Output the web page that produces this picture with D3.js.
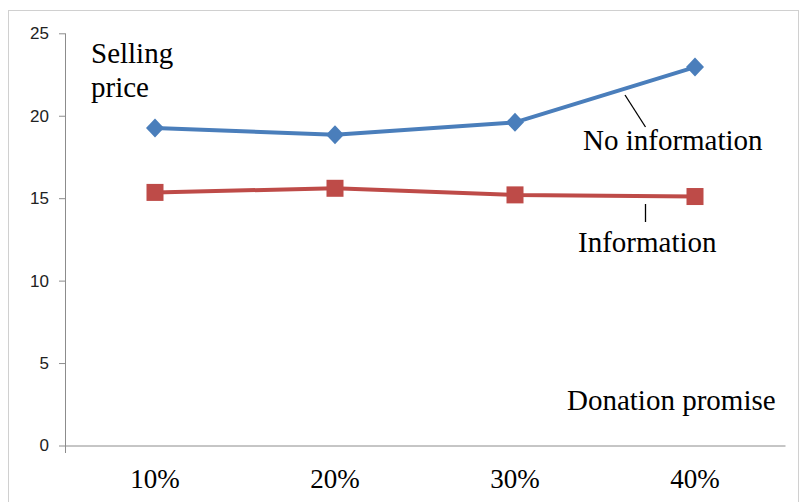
<!DOCTYPE html>
<html>
<head>
<meta charset="utf-8">
<script src="https://cdn.jsdelivr.net/npm/d3@7"></script>
<style>
  html, body { margin: 0; padding: 0; background: #fff; }
  svg { display: block; }
</style>
</head>
<body>
<svg id="chart" width="799" height="502"></svg>
<script>
// Selling price by donation promise, with and without information
const categories = ["10%", "20%", "30%", "40%"];
const noInformation = [19.25, 18.85, 19.6, 22.95];
const information = [15.35, 15.6, 15.2, 15.1];
const yTicks = [0, 5, 10, 15, 20, 25];

const svg = d3.select("#chart");
const plot = { left: 65, right: 785, top: 33.3, bottom: 445.5 };
const serif = '"Liberation Serif"';
const sans = '"Liberation Sans"';

// Dotted outer frame of the chart area
svg.append("rect")
  .attr("x", 8.5).attr("y", 10.5)
  .attr("width", 790).attr("height", 500)
  .attr("fill", "none")
  .attr("stroke", "#a0a0a0")
  .attr("stroke-width", 1)
  .attr("stroke-dasharray", "1,1");

const x = d3.scaleBand().domain(categories).range([plot.left, plot.right]);
const y = d3.scaleLinear().domain([0, 25]).range([plot.bottom, plot.top]);

// Y axis
const yAxis = svg.append("g")
  .attr("transform", `translate(${plot.left},0)`)
  .call(d3.axisLeft(y).tickValues(yTicks).tickSize(6).tickPadding(10).tickSizeOuter(0));
yAxis.select(".domain").remove();
yAxis.selectAll(".tick line").attr("stroke", "#8c8c8c");
yAxis.selectAll(".tick text")
  .style("font-family", sans)
  .style("font-size", "17px")
  .attr("fill", "#222");
svg.append("line")
  .attr("x1", plot.left + 0.5).attr("x2", plot.left + 0.5)
  .attr("y1", plot.top).attr("y2", plot.bottom + 7.5)
  .attr("stroke", "#8c8c8c");

// X axis
const xAxis = svg.append("g")
  .attr("transform", `translate(0,${plot.bottom})`)
  .call(d3.axisBottom(x).tickSize(0).tickPadding(23).tickSizeOuter(0));
xAxis.select(".domain").attr("stroke", "#8c8c8c");
xAxis.selectAll(".tick text")
  .style("font-family", serif)
  .style("font-size", "27px")
  .attr("fill", "#000");

// Series lines
const line = d3.line()
  .x((d, i) => x(categories[i]) + x.bandwidth() / 2)
  .y(d => y(d));

const blue = "#4a7ebb", red = "#be4b48";

svg.append("path").datum(noInformation)
  .attr("d", line).attr("fill", "none")
  .attr("stroke", blue).attr("stroke-width", 4).attr("stroke-linejoin", "round");
svg.append("path").datum(information)
  .attr("d", line).attr("fill", "none")
  .attr("stroke", red).attr("stroke-width", 4).attr("stroke-linejoin", "round");

// Diamond markers
svg.selectAll(".diamond").data(noInformation).enter().append("path")
  .attr("class", "diamond")
  .attr("transform", (d, i) => `translate(${x(categories[i]) + x.bandwidth() / 2},${y(d)})`)
  .attr("d", "M0,-9.5L9,0L0,9.5L-9,0Z")
  .attr("fill", blue);

// Square markers
svg.selectAll(".square").data(information).enter().append("rect")
  .attr("class", "square")
  .attr("x", (d, i) => x(categories[i]) + x.bandwidth() / 2 - 8.5)
  .attr("y", d => y(d) - 8.5)
  .attr("width", 17).attr("height", 17)
  .attr("fill", red);

// Text labels
const label = (txt, lx, ly) => svg.append("text")
  .attr("x", lx).attr("y", ly)
  .style("font-family", serif)
  .style("font-size", "29px")
  .attr("fill", "#000").text(txt);

label("Selling", 91, 63);
label("price", 91, 97);
label("No information", 583, 150);
label("Information", 578, 252);
label("Donation promise", 567, 410);

// Leader lines from labels to series
svg.append("line")
  .attr("x1", 625).attr("y1", 95).attr("x2", 645.5).attr("y2", 127)
  .attr("stroke", "#000").attr("stroke-width", 1.3);
svg.append("line")
  .attr("x1", 645.5).attr("y1", 204).attr("x2", 645.5).attr("y2", 222)
  .attr("stroke", "#000").attr("stroke-width", 1.3);
</script>
</body>
</html>
